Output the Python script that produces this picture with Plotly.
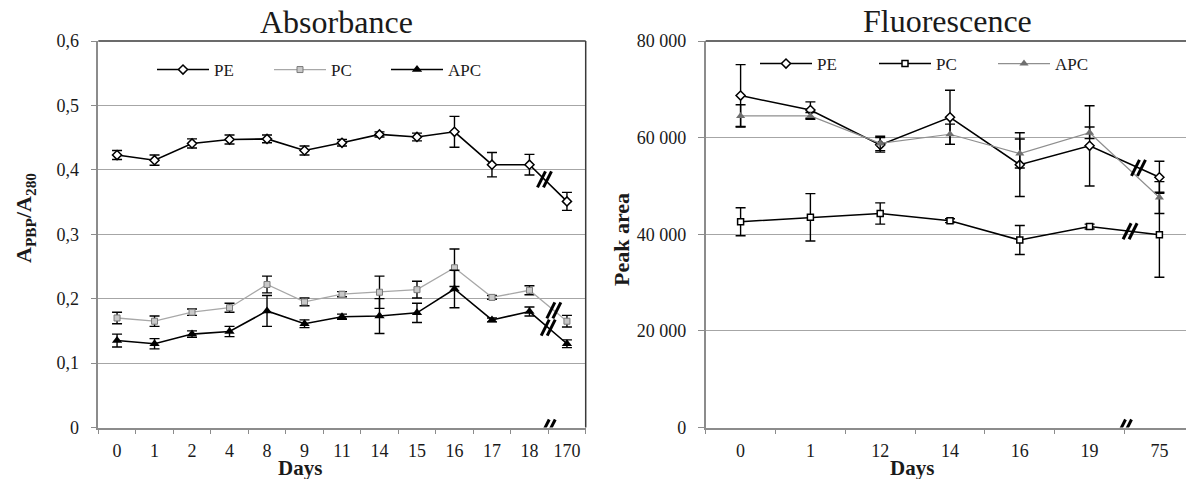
import plotly.graph_objects as go

# ---------------- data ----------------
abs_days = ["0", "1", "2", "4", "8", "9", "11", "14", "15", "16", "17", "18", "170"]
abs_pe = [0.423, 0.415, 0.441, 0.447, 0.448, 0.430, 0.442, 0.455, 0.451, 0.459, 0.408, 0.408, 0.351]
abs_pe_err = [0.007, 0.008, 0.007, 0.007, 0.006, 0.007, 0.005, 0.004, 0.006, 0.024, 0.019, 0.016, 0.014]
abs_pc = [0.170, 0.165, 0.179, 0.186, 0.222, 0.195, 0.207, 0.210, 0.214, 0.248, 0.202, 0.213, 0.165]
abs_pc_err = [0.009, 0.008, 0.005, 0.007, 0.013, 0.006, 0.004, 0.025, 0.013, 0.029, 0.003, 0.007, 0.009]
abs_apc = [0.135, 0.130, 0.145, 0.149, 0.181, 0.161, 0.172, 0.173, 0.178, 0.215, 0.167, 0.180, 0.130]
abs_apc_err = [0.010, 0.008, 0.005, 0.008, 0.024, 0.006, 0.004, 0.027, 0.015, 0.029, 0.003, 0.007, 0.006]

fl_days = ["0", "1", "12", "14", "16", "19", "75"]
fl_pe = [68700, 65700, 58500, 64200, 54400, 58300, 51800]
fl_pe_err = [6400, 1700, 1500, 5600, 6600, 8300, 3300]
fl_pc = [42600, 43500, 44300, 42800, 38800, 41600, 39900]
fl_pc_err = [2900, 4900, 2200, 400, 3000, 500, 8800]
fl_apc = [64500, 64500, 58800, 60700, 56700, 61000, 47600]
fl_apc_err = [2300, 700, 1500, 2100, 3000, 1200, 3300]

abs_yticks = [0, 0.1, 0.2, 0.3, 0.4, 0.5, 0.6]
abs_yticktext = ["0", "0,1", "0,2", "0,3", "0,4", "0,5", "0,6"]
fl_yticks = [0, 20000, 40000, 60000, 80000]
fl_yticktext = ["0", "20 000", "40 000", "60 000", "80 000"]

# ---------------- style ----------------
W, H = 1186, 479
FONT = "Liberation Serif"
TXT = "#1a1a1a"
GRID = "#a6a6a6"
AXIS = "#8c8c8c"
BORDER = "#3a3a3a"

fig = go.Figure()

xa = list(range(len(abs_days)))
xf = list(range(len(fl_days)))


def err(arr):
    return dict(type="data", array=arr, color="black", thickness=1.4, width=5)


# Absorbance panel
fig.add_trace(go.Scatter(x=xa, y=abs_pe, name="PE", mode="lines+markers",
                         line=dict(color="black", width=1.6),
                         marker=dict(symbol="diamond", size=7, color="white",
                                     line=dict(color="black", width=1.5)),
                         error_y=err(abs_pe_err), xaxis="x", yaxis="y", legend="legend"))
fig.add_trace(go.Scatter(x=xa, y=abs_pc, name="PC", mode="lines+markers",
                         line=dict(color="#a8a8a8", width=1.3),
                         marker=dict(symbol="square", size=6, color="#c8c8c8",
                                     line=dict(color="#7a7a7a", width=1)),
                         error_y=err(abs_pc_err), xaxis="x", yaxis="y", legend="legend"))
fig.add_trace(go.Scatter(x=xa, y=abs_apc, name="APC", mode="lines+markers",
                         line=dict(color="black", width=1.6),
                         marker=dict(symbol="triangle-up", size=9, color="black"),
                         error_y=err(abs_apc_err), xaxis="x", yaxis="y", legend="legend"))

# Fluorescence panel
fig.add_trace(go.Scatter(x=xf, y=fl_pe, name="PE", mode="lines+markers",
                         line=dict(color="black", width=1.6),
                         marker=dict(symbol="diamond", size=7, color="white",
                                     line=dict(color="black", width=1.5)),
                         error_y=err(fl_pe_err), xaxis="x2", yaxis="y2", legend="legend2"))
fig.add_trace(go.Scatter(x=xf, y=fl_pc, name="PC", mode="lines+markers",
                         line=dict(color="black", width=1.6),
                         marker=dict(symbol="square", size=6, color="white",
                                     line=dict(color="black", width=1.5)),
                         error_y=err(fl_pc_err), xaxis="x2", yaxis="y2", legend="legend2"))
fig.add_trace(go.Scatter(x=xf, y=fl_apc, name="APC", mode="lines+markers",
                         line=dict(color="#8f8f8f", width=1.2),
                         marker=dict(symbol="triangle-up", size=8, color="#6f6f6f"),
                         error_y=err(fl_apc_err), xaxis="x2", yaxis="y2", legend="legend2"))

# ---------------- layout geometry (px) ----------------
L1, R1 = 98.3, 585.7
L2, R2 = 705.7, 1186
TOP, BOT = 41, 427.5
cat_w2 = 69.8


def px_x(v):
    return v / W


def px_y(v):
    return 1 - v / H


tick_font = dict(family=FONT, size=18, color=TXT)

xaxis_common = dict(
    automargin=False,
    showgrid=False, zeroline=False, showline=True, linecolor=AXIS, linewidth=1.5,
    ticks="outside", ticklen=6, tickcolor="rgba(0,0,0,0)", tickfont=tick_font,
    minor=dict(ticks="outside", ticklen=5, tickcolor=AXIS, tickwidth=1.2, tick0=-0.5, dtick=1),
)
yaxis_common = dict(
    automargin=False,
    showgrid=True, gridcolor=GRID, gridwidth=1.3, zeroline=False, showline=True,
    linecolor=AXIS, linewidth=1.5, ticks="outside", ticklen=6, tickcolor=AXIS,
    tickwidth=1.2, tickfont=tick_font, ticklabelstandoff=8,
)

legend_font = dict(family=FONT, size=17, color=TXT)

fig.update_layout(
    width=W, height=H, margin=dict(l=0, r=0, t=0, b=0, autoexpand=False),
    paper_bgcolor="white", plot_bgcolor="white",
    font=dict(family=FONT, color=TXT),
    xaxis=dict(domain=[px_x(L1), px_x(R1)], range=[-0.5, len(abs_days) - 0.5],
               tickmode="array", tickvals=xa, ticktext=abs_days, anchor="y", **xaxis_common),
    yaxis=dict(domain=[px_y(BOT), px_y(TOP)], range=[0, 0.6], tickmode="array",
               tickvals=abs_yticks, ticktext=abs_yticktext, anchor="x", **yaxis_common),
    xaxis2=dict(domain=[px_x(L2), 1.0],
                range=[-0.5, -0.5 + (R2 - L2) / cat_w2],
                tickmode="array", tickvals=xf, ticktext=fl_days, anchor="y2", **xaxis_common),
    yaxis2=dict(domain=[px_y(BOT), px_y(TOP)], range=[0, 80000], tickmode="array",
                tickvals=fl_yticks, ticktext=fl_yticktext, anchor="x2", **yaxis_common),
    legend=dict(orientation="h", x=px_x(152), y=px_y(70), xanchor="left", yanchor="middle",
                font=legend_font, bgcolor="rgba(0,0,0,0)", itemwidth=52,
                entrywidth=50, entrywidthmode="pixels"),
    legend2=dict(orientation="h", x=px_x(755), y=px_y(64), xanchor="left", yanchor="middle",
                 font=legend_font, bgcolor="rgba(0,0,0,0)", itemwidth=52,
                 entrywidth=52, entrywidthmode="pixels"),
    showlegend=True,
)

# titles and axis titles
ann = []
ann.append(dict(text="Absorbance", x=px_x(336), y=px_y(42), xref="paper", yref="paper",
                xanchor="center", yanchor="bottom", showarrow=False,
                font=dict(family=FONT, size=32, color=TXT)))
ann.append(dict(text="Fluorescence", x=px_x(947), y=px_y(41), xref="paper", yref="paper",
                xanchor="center", yanchor="bottom", showarrow=False,
                font=dict(family=FONT, size=32, color=TXT)))
ann.append(dict(text="<b>Days</b>", x=px_x(300), y=px_y(468), xref="paper", yref="paper",
                xanchor="center", yanchor="middle", showarrow=False,
                font=dict(family=FONT, size=21, color=TXT)))
ann.append(dict(text="<b>Days</b>", x=px_x(912), y=px_y(468), xref="paper", yref="paper",
                xanchor="center", yanchor="middle", showarrow=False,
                font=dict(family=FONT, size=21, color=TXT)))
ann.append(dict(text="<b>A<sub>PBP</sub>/A<sub>280</sub></b>", x=px_x(25), y=px_y(218),
                xref="paper", yref="paper", xanchor="center", yanchor="middle",
                showarrow=False, textangle=-90, font=dict(family=FONT, size=22, color=TXT)))
ann.append(dict(text="<b>Peak area</b>", x=px_x(621), y=px_y(240),
                xref="paper", yref="paper", xanchor="center", yanchor="middle",
                showarrow=False, textangle=-90, font=dict(family=FONT, size=22, color=TXT)))
fig.update_layout(annotations=ann)

shapes = []
# top/right plot-area borders
shapes.append(dict(type="line", xref="x domain", yref="y domain", x0=0, x1=1, y0=1, y1=1,
                   line=dict(color=BORDER, width=1.5)))
shapes.append(dict(type="line", xref="x domain", yref="y domain", x0=1, x1=1, y0=0, y1=1,
                   line=dict(color=BORDER, width=1.5)))
shapes.append(dict(type="line", xref="x2 domain", yref="y2 domain", x0=0, x1=1, y0=1, y1=1,
                   line=dict(color=BORDER, width=1.5)))


def brk(xref, yref, xc, yc):
    out = []
    for dx in (-3, 3):
        out.append(dict(type="line", xref=xref, yref=yref,
                        xsizemode="pixel", ysizemode="pixel", xanchor=xc, yanchor=yc,
                        x0=dx - 4, x1=dx + 4, y0=-8, y1=8,
                        line=dict(color="black", width=3)))
    return out


def seg_point(vals, frac):
    n = len(vals)
    x = (n - 2) + frac
    y = vals[-2] + (vals[-1] - vals[-2]) * frac
    return x, y


# axis breaks
shapes += brk("x", "y", len(abs_days) - 1.5, 0)
shapes += brk("x2", "y2", len(fl_days) - 1.5, 0)
# series breaks
for vals, f in ((abs_pe, 0.4), (abs_pc, 0.65), (abs_apc, 0.5)):
    shapes += brk("x", "y", *seg_point(vals, f))
for vals, f in ((fl_pe, 0.7), (fl_pc, 0.58)):
    shapes += brk("x2", "y2", *seg_point(vals, f))

fig.update_layout(shapes=shapes)

fig.write_html(
    "out.html",
    config={"displayModeBar": False},
    post_script="document.body.style.margin='0';document.body.style.overflow='hidden';",
)
